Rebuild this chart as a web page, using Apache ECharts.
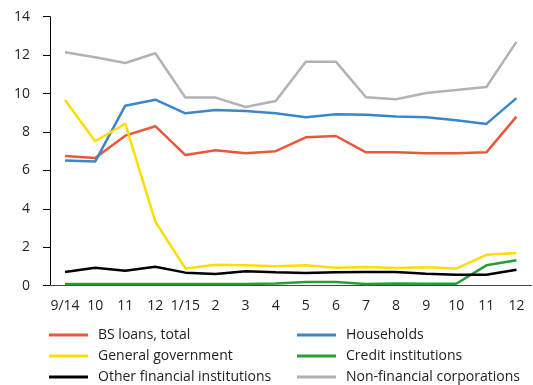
<!DOCTYPE html>
<html><head><meta charset="utf-8">
<script src="https://cdn.jsdelivr.net/npm/echarts@6/dist/echarts.min.js"></script>
<style>html,body{margin:0;padding:0;background:#fff}#c{width:533px;height:385px}</style>
</head><body><div id="c"></div>
<script>
const categories = ['9/14','10','11','12','1/15','2','3','4','5','6','7','8','9','10','11','12'];
const bsLoans = [6.75,6.65,7.81,8.30,6.80,7.05,6.89,7.00,7.72,7.79,6.94,6.94,6.89,6.89,6.94,8.80];
const households = [6.51,6.46,9.37,9.68,8.97,9.15,9.09,8.97,8.77,8.92,8.90,8.80,8.77,8.61,8.42,9.76];
const generalGov = [9.67,7.52,8.43,3.33,0.90,1.09,1.06,1.01,1.06,0.94,0.97,0.92,0.96,0.89,1.61,1.70];
const creditInst = [0.09,0.09,0.09,0.09,0.09,0.09,0.09,0.12,0.19,0.19,0.09,0.12,0.10,0.10,1.06,1.32];
const otherFin = [0.71,0.94,0.78,0.99,0.68,0.61,0.75,0.70,0.66,0.70,0.71,0.71,0.62,0.57,0.57,0.83];
const nonFin = [12.15,11.89,11.59,12.10,9.79,9.79,9.30,9.61,11.66,11.66,9.81,9.70,10.03,10.19,10.34,12.69];
const yTicks = {min:0,max:14,interval:2};

const font = 'Open Sans';
const names = ['BS loans, total','Households','General government','Credit institutions','Other financial institutions','Non-financial corporations'];
const datas = [bsLoans,households,generalGov,creditInst,otherFin,nonFin];
const colors = ['#E8583A','#3A86C8','#FFDD00','#23A033','#000000','#B2B2B2'];

const legendCommon = {
  orient:'vertical', top:328, height:60, padding:0, itemWidth:39, itemHeight:3, itemGap:7, icon:'rect',
  textStyle:{fontFamily:font,fontSize:14,color:'#222',padding:[0,0,0,5]}
};
const chart = echarts.init(document.getElementById('c'),null,{renderer:'canvas'});
chart.setOption({
  animation:false,
  color:colors,
  grid:{left:50,right:1.5,top:16.7,bottom:99.3,containLabel:false},
  legend:[
    Object.assign({left:49,data:[names[0],names[2],names[4]]},legendCommon),
    Object.assign({left:297,data:[names[1],names[3],names[5]]},legendCommon)
  ],
  xAxis:{type:'category',data:categories,boundaryGap:true,
    axisLine:{lineStyle:{color:'#444',width:1}},axisTick:{show:false},
    axisLabel:{margin:13,fontFamily:font,fontSize:14,color:'#222',interval:0}},
  yAxis:{type:'value',min:yTicks.min,max:yTicks.max,interval:yTicks.interval,
    axisLine:{show:true,lineStyle:{color:'#000',width:1}},
    axisTick:{show:true,length:7,lineStyle:{color:'#000'}},
    splitLine:{show:false},
    axisLabel:{margin:20,fontFamily:font,fontSize:14,color:'#222'}},
  series:names.map((n,i)=>({name:n,type:'line',data:datas[i],symbol:'none',
    lineStyle:{width:2.5,color:colors[i]},itemStyle:{color:colors[i]},z:i===3?1:2}))
});
</script></body></html>
